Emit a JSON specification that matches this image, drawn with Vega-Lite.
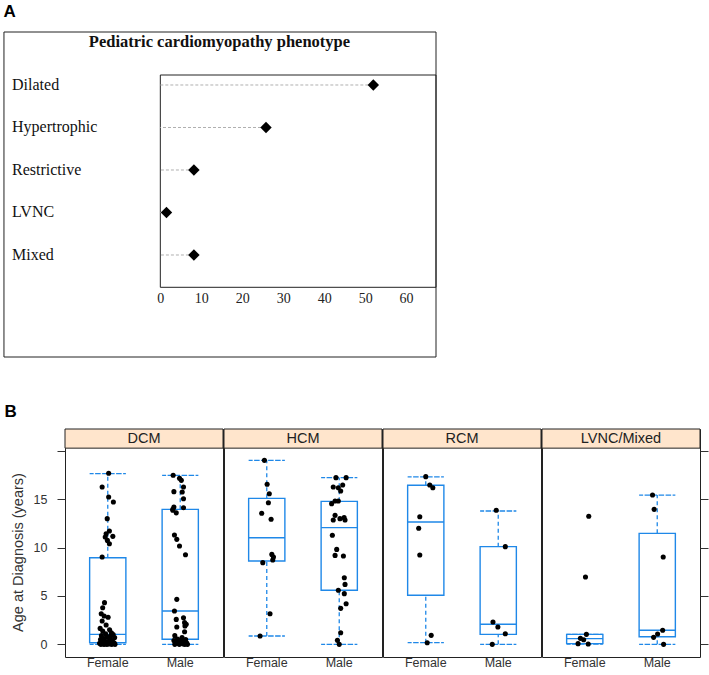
{
"$schema":"https://vega.github.io/schema/vega-lite/v6.json",
"background":"white",
"padding":{"left":3,"top":2,"right":0,"bottom":0},
"config":{"font":"Liberation Sans","view":{"stroke":"#222","strokeWidth":1},"scale":{"bandPaddingInner":0.5,"bandPaddingOuter":0.34},"axis":{"grid":false,"domain":false,"labelColor":"#333","titleColor":"#333","tickColor":"#333","titleFontWeight":"normal"}},
"datasets":{
"phen":[{"name":"Dilated","pct":52},{"name":"Hypertrophic","pct":25.8},{"name":"Restrictive","pct":8.2},{"name":"LVNC","pct":1.5},{"name":"Mixed","pct":8.2}],
"box":[
{"cmp":"DCM","sex":"Female","lo":0,"q1":0.17,"med":1.03,"q3":8.96,"hi":17.65},
{"cmp":"DCM","sex":"Male","lo":0,"q1":0.52,"med":3.44,"q3":13.96,"hi":17.48},
{"cmp":"HCM","sex":"Female","lo":0.86,"q1":8.62,"med":11.03,"q3":15.1,"hi":19.03},
{"cmp":"HCM","sex":"Male","lo":0,"q1":5.59,"med":12.07,"q3":14.79,"hi":17.24},
{"cmp":"RCM","sex":"Female","lo":0.17,"q1":5.07,"med":12.65,"q3":16.45,"hi":17.31},
{"cmp":"RCM","sex":"Male","lo":0,"q1":1.03,"med":2.07,"q3":10.1,"hi":13.79},
{"cmp":"LVNC/Mixed","sex":"Female","lo":0.03,"q1":0.07,"med":0.59,"q3":1.03,"hi":1.03},
{"cmp":"LVNC/Mixed","sex":"Male","lo":0,"q1":0.79,"med":1.45,"q3":11.48,"hi":15.44}
],
"pts":[
{"cmp":"DCM","sex":"Female","age":17.69,"j":0.05},{"cmp":"DCM","sex":"Female","age":16.27,"j":-0.31},{"cmp":"DCM","sex":"Female","age":15.24,"j":0.05},{"cmp":"DCM","sex":"Female","age":14.72,"j":0.31},{"cmp":"DCM","sex":"Female","age":13.0,"j":-0.03},{"cmp":"DCM","sex":"Female","age":11.72,"j":0.09},{"cmp":"DCM","sex":"Female","age":11.44,"j":-0.09},{"cmp":"DCM","sex":"Female","age":11.17,"j":0.28},{"cmp":"DCM","sex":"Female","age":11.1,"j":-0.14},{"cmp":"DCM","sex":"Female","age":10.75,"j":-0.02},{"cmp":"DCM","sex":"Female","age":10.41,"j":0.09},{"cmp":"DCM","sex":"Female","age":9.03,"j":-0.31},
{"cmp":"DCM","sex":"Female","age":4.31,"j":-0.18},{"cmp":"DCM","sex":"Female","age":3.79,"j":-0.28},{"cmp":"DCM","sex":"Female","age":3.17,"j":-0.36},{"cmp":"DCM","sex":"Female","age":2.93,"j":-0.2},{"cmp":"DCM","sex":"Female","age":2.8,"j":0.02},{"cmp":"DCM","sex":"Female","age":2.41,"j":-0.31},{"cmp":"DCM","sex":"Female","age":2.0,"j":-0.09},{"cmp":"DCM","sex":"Female","age":1.65,"j":-0.42},{"cmp":"DCM","sex":"Female","age":1.5,"j":0.1},{"cmp":"DCM","sex":"Female","age":1.37,"j":-0.28},{"cmp":"DCM","sex":"Female","age":1.2,"j":0.2},{"cmp":"DCM","sex":"Female","age":1.1,"j":-0.12},
{"cmp":"DCM","sex":"Female","age":1.0,"j":0.3},{"cmp":"DCM","sex":"Female","age":0.9,"j":-0.35},{"cmp":"DCM","sex":"Female","age":0.85,"j":0.15},{"cmp":"DCM","sex":"Female","age":0.8,"j":-0.05},{"cmp":"DCM","sex":"Female","age":0.7,"j":0.38},{"cmp":"DCM","sex":"Female","age":0.6,"j":-0.22},{"cmp":"DCM","sex":"Female","age":0.55,"j":0.1},{"cmp":"DCM","sex":"Female","age":0.5,"j":-0.4},{"cmp":"DCM","sex":"Female","age":0.4,"j":0.25},{"cmp":"DCM","sex":"Female","age":0.35,"j":-0.15},{"cmp":"DCM","sex":"Female","age":0.3,"j":0.05},{"cmp":"DCM","sex":"Female","age":0.25,"j":-0.3},
{"cmp":"DCM","sex":"Female","age":0.17,"j":0.35},{"cmp":"DCM","sex":"Female","age":0.15,"j":-0.1},{"cmp":"DCM","sex":"Female","age":0.12,"j":0.18},{"cmp":"DCM","sex":"Female","age":0.1,"j":-0.45},{"cmp":"DCM","sex":"Female","age":0.08,"j":0.28},{"cmp":"DCM","sex":"Female","age":0.05,"j":-0.25},{"cmp":"DCM","sex":"Female","age":0.03,"j":0.08},{"cmp":"DCM","sex":"Female","age":0.0,"j":-0.38},{"cmp":"DCM","sex":"Female","age":0.0,"j":0.22},{"cmp":"DCM","sex":"Female","age":0.0,"j":-0.05},{"cmp":"DCM","sex":"Female","age":0.0,"j":0.4},{"cmp":"DCM","sex":"Female","age":0.0,"j":-0.2},
{"cmp":"DCM","sex":"Male","age":17.48,"j":-0.39},{"cmp":"DCM","sex":"Male","age":17.17,"j":-0.04},{"cmp":"DCM","sex":"Male","age":16.96,"j":0.06},{"cmp":"DCM","sex":"Male","age":16.27,"j":0.18},{"cmp":"DCM","sex":"Male","age":15.79,"j":-0.35},{"cmp":"DCM","sex":"Male","age":15.75,"j":0.11},{"cmp":"DCM","sex":"Male","age":15.06,"j":0.18},{"cmp":"DCM","sex":"Male","age":14.2,"j":-0.35},{"cmp":"DCM","sex":"Male","age":14.13,"j":0.18},{"cmp":"DCM","sex":"Male","age":13.96,"j":-0.41},{"cmp":"DCM","sex":"Male","age":13.86,"j":-0.41},{"cmp":"DCM","sex":"Male","age":13.6,"j":-0.22},
{"cmp":"DCM","sex":"Male","age":11.3,"j":-0.32},{"cmp":"DCM","sex":"Male","age":10.86,"j":-0.19},{"cmp":"DCM","sex":"Male","age":10.17,"j":-0.04},{"cmp":"DCM","sex":"Male","age":9.27,"j":0.29},{"cmp":"DCM","sex":"Male","age":4.65,"j":-0.19},{"cmp":"DCM","sex":"Male","age":3.44,"j":-0.32},{"cmp":"DCM","sex":"Male","age":2.75,"j":0.18},{"cmp":"DCM","sex":"Male","age":2.58,"j":-0.22},{"cmp":"DCM","sex":"Male","age":2.24,"j":0.24},{"cmp":"DCM","sex":"Male","age":2.07,"j":0.33},{"cmp":"DCM","sex":"Male","age":1.89,"j":0.26},{"cmp":"DCM","sex":"Male","age":1.79,"j":-0.19},{"cmp":"DCM","sex":"Male","age":1.3,"j":0.24},
{"cmp":"DCM","sex":"Male","age":0.9,"j":-0.3},{"cmp":"DCM","sex":"Male","age":0.7,"j":0.1},{"cmp":"DCM","sex":"Male","age":0.55,"j":-0.15},{"cmp":"DCM","sex":"Male","age":0.5,"j":0.3},{"cmp":"DCM","sex":"Male","age":0.4,"j":-0.35},{"cmp":"DCM","sex":"Male","age":0.35,"j":0.05},{"cmp":"DCM","sex":"Male","age":0.3,"j":0.2},{"cmp":"DCM","sex":"Male","age":0.2,"j":-0.25},{"cmp":"DCM","sex":"Male","age":0.15,"j":0.35},{"cmp":"DCM","sex":"Male","age":0.1,"j":-0.1},{"cmp":"DCM","sex":"Male","age":0.05,"j":0.15},{"cmp":"DCM","sex":"Male","age":0.0,"j":-0.3},{"cmp":"DCM","sex":"Male","age":0.0,"j":0.25},{"cmp":"DCM","sex":"Male","age":0.0,"j":-0.05},{"cmp":"DCM","sex":"Male","age":0.0,"j":0.4},
{"cmp":"HCM","sex":"Female","age":19.03,"j":-0.13},{"cmp":"HCM","sex":"Female","age":16.55,"j":0.02},{"cmp":"HCM","sex":"Female","age":15.58,"j":0.14},{"cmp":"HCM","sex":"Female","age":14.65,"j":0.09},{"cmp":"HCM","sex":"Female","age":13.55,"j":-0.28},{"cmp":"HCM","sex":"Female","age":12.93,"j":0.24},{"cmp":"HCM","sex":"Female","age":9.3,"j":0.28},{"cmp":"HCM","sex":"Female","age":9.03,"j":0.37},{"cmp":"HCM","sex":"Female","age":8.72,"j":0.33},{"cmp":"HCM","sex":"Female","age":8.45,"j":-0.22},{"cmp":"HCM","sex":"Female","age":3.17,"j":0.18},{"cmp":"HCM","sex":"Female","age":0.86,"j":-0.37},
{"cmp":"HCM","sex":"Male","age":17.24,"j":-0.18},{"cmp":"HCM","sex":"Male","age":17.24,"j":0.38},{"cmp":"HCM","sex":"Male","age":16.48,"j":0.19},{"cmp":"HCM","sex":"Male","age":16.27,"j":-0.33},{"cmp":"HCM","sex":"Male","age":16.2,"j":-0.05},{"cmp":"HCM","sex":"Male","age":15.86,"j":0.08},{"cmp":"HCM","sex":"Male","age":14.83,"j":-0.23},{"cmp":"HCM","sex":"Male","age":14.83,"j":-0.05},{"cmp":"HCM","sex":"Male","age":14.55,"j":-0.42},{"cmp":"HCM","sex":"Male","age":13.34,"j":-0.23},{"cmp":"HCM","sex":"Male","age":13.1,"j":0.27},{"cmp":"HCM","sex":"Male","age":13.0,"j":0.04},{"cmp":"HCM","sex":"Male","age":12.86,"j":-0.33},{"cmp":"HCM","sex":"Male","age":12.86,"j":0.32},
{"cmp":"HCM","sex":"Male","age":11.28,"j":-0.38},{"cmp":"HCM","sex":"Male","age":9.82,"j":-0.14},{"cmp":"HCM","sex":"Male","age":9.2,"j":-0.23},{"cmp":"HCM","sex":"Male","age":9.13,"j":0.23},{"cmp":"HCM","sex":"Male","age":6.89,"j":0.28},{"cmp":"HCM","sex":"Male","age":6.2,"j":0.32},{"cmp":"HCM","sex":"Male","age":5.59,"j":-0.05},{"cmp":"HCM","sex":"Male","age":5.24,"j":0.28},{"cmp":"HCM","sex":"Male","age":4.2,"j":0.38},{"cmp":"HCM","sex":"Male","age":3.72,"j":0.08},{"cmp":"HCM","sex":"Male","age":1.2,"j":0.08},{"cmp":"HCM","sex":"Male","age":0.41,"j":-0.1},{"cmp":"HCM","sex":"Male","age":0.0,"j":0.0},
{"cmp":"RCM","sex":"Female","age":17.34,"j":0.0},{"cmp":"RCM","sex":"Female","age":16.48,"j":0.22},{"cmp":"RCM","sex":"Female","age":16.2,"j":0.39},{"cmp":"RCM","sex":"Female","age":13.2,"j":-0.33},{"cmp":"RCM","sex":"Female","age":12.0,"j":-0.39},{"cmp":"RCM","sex":"Female","age":9.24,"j":-0.33},{"cmp":"RCM","sex":"Female","age":0.93,"j":0.3},{"cmp":"RCM","sex":"Female","age":0.17,"j":0.08},
{"cmp":"RCM","sex":"Male","age":13.86,"j":-0.11},{"cmp":"RCM","sex":"Male","age":10.1,"j":0.39},{"cmp":"RCM","sex":"Male","age":2.31,"j":-0.29},{"cmp":"RCM","sex":"Male","age":1.79,"j":-0.02},{"cmp":"RCM","sex":"Male","age":1.1,"j":0.39},{"cmp":"RCM","sex":"Male","age":0.0,"j":-0.33},
{"cmp":"LVNC/Mixed","sex":"Female","age":13.24,"j":0.22},{"cmp":"LVNC/Mixed","sex":"Female","age":6.96,"j":0.04},{"cmp":"LVNC/Mixed","sex":"Female","age":1.03,"j":0.09},{"cmp":"LVNC/Mixed","sex":"Female","age":0.62,"j":-0.24},{"cmp":"LVNC/Mixed","sex":"Female","age":0.48,"j":-0.06},{"cmp":"LVNC/Mixed","sex":"Female","age":0.07,"j":-0.37},{"cmp":"LVNC/Mixed","sex":"Female","age":0.03,"j":0.19},
{"cmp":"LVNC/Mixed","sex":"Male","age":15.44,"j":-0.26},{"cmp":"LVNC/Mixed","sex":"Male","age":13.96,"j":-0.17},{"cmp":"LVNC/Mixed","sex":"Male","age":9.03,"j":0.33},{"cmp":"LVNC/Mixed","sex":"Male","age":1.45,"j":0.3},{"cmp":"LVNC/Mixed","sex":"Male","age":1.07,"j":0.02},{"cmp":"LVNC/Mixed","sex":"Male","age":0.72,"j":-0.2},{"cmp":"LVNC/Mixed","sex":"Male","age":0.0,"j":0.35}
]
},
"spacing":45,
"vconcat":[
{
"title":{"text":"A","anchor":"start","frame":"bounds","fontSize":17,"fontWeight":"bold","offset":11,"color":"#000"},
"width":371,"height":325,
"view":{"stroke":null},
"layer":[
{"data":{"values":[{"x0":-38.17,"x1":67.3,"y0":-0.247,"y1":7.4}]},"mark":{"type":"rect","fill":"transparent","stroke":"#222","strokeWidth":1},"encoding":{"x":{"field":"x0","type":"quantitative","scale":{"domain":[-23.27,67.3],"nice":false,"zero":false}},"x2":{"field":"x1"},"y":{"field":"y0","type":"quantitative","scale":{"domain":[-0.247,7.4],"nice":false,"zero":false,"reverse":true},"axis":null},"y2":{"field":"y1"}}},
{"data":{"values":[{"x0":0,"x1":67.3,"y0":0.765,"y1":5.76}]},"mark":{"type":"rect","fill":"transparent","stroke":"#222","strokeWidth":1},"encoding":{"x":{"field":"x0","type":"quantitative","scale":{"domain":[-23.27,67.3],"nice":false,"zero":false}},"x2":{"field":"x1"},"y":{"field":"y0","type":"quantitative","scale":{"domain":[-0.247,7.4],"nice":false,"zero":false,"reverse":true},"axis":null},"y2":{"field":"y1"}}},
{"data":{"name":"phen"},"transform":[{"window":[{"op":"row_number","as":"idx"}]}],"mark":{"type":"rule","color":"#b0b0b0","strokeDash":[3,2],"strokeWidth":1},"encoding":{"x":{"field":"pct","type":"quantitative","scale":{"domain":[-23.27,67.3],"nice":false,"zero":false}},"x2":{"datum":0},"y":{"field":"idx","type":"quantitative","scale":{"domain":[-0.247,7.4],"nice":false,"zero":false,"reverse":true},"axis":null}}},
{"data":{"name":"phen"},"transform":[{"window":[{"op":"row_number","as":"idx"}]}],"mark":{"type":"point","shape":"diamond","filled":true,"color":"#000","size":130,"opacity":1},"encoding":{"x":{"field":"pct","type":"quantitative","scale":{"domain":[-23.27,67.3],"nice":false,"zero":false},"axis":{"values":[0,10,20,30,40,50,60],"offset":-70,"ticks":false,"tickSize":0,"domain":false,"grid":false,"labelPadding":4,"labelFont":"Liberation Serif","labelFontSize":14,"labelColor":"#222","title":null,"labelFlush":false,"labelOverlap":false}},"y":{"field":"idx","type":"quantitative","scale":{"domain":[-0.247,7.4],"nice":false,"zero":false,"reverse":true},"axis":null}}},
{"data":{"name":"phen"},"transform":[{"window":[{"op":"row_number","as":"idx"}]}],"mark":{"type":"text","align":"left","baseline":"middle","font":"Liberation Serif","fontSize":16,"color":"#111"},"encoding":{"x":{"datum":-36.2,"type":"quantitative","scale":{"domain":[-23.27,67.3],"nice":false,"zero":false}},"y":{"field":"idx","type":"quantitative","scale":{"domain":[-0.247,7.4],"nice":false,"zero":false,"reverse":true},"axis":null},"text":{"field":"name"}}},
{"data":{"values":[{"t":"Pediatric cardiomyopathy phenotype"}]},"mark":{"type":"text","align":"center","baseline":"middle","font":"Liberation Serif","fontSize":16.5,"fontWeight":"bold","color":"#111"},"encoding":{"x":{"datum":14.44,"type":"quantitative","scale":{"domain":[-23.27,67.3],"nice":false,"zero":false}},"y":{"datum":0.0,"type":"quantitative","scale":{"domain":[-0.247,7.4],"nice":false,"zero":false,"reverse":true},"axis":null},"text":{"field":"t"}}}
]
},
{
"title":{"text":"B","anchor":"start","frame":"bounds","fontSize":17,"fontWeight":"bold","offset":7,"color":"#000"},
"spacing":-2,
"resolve":{"scale":{"x":"independent","y":"independent"}},
"hconcat":[
{"width":158,"height":228,"resolve":{"scale":{"xOffset":"independent"}},"layer":[
{"data":{"values":[{"cmp":"DCM","s0":20.29,"s1":22.27,"sm":21.28}]},"mark":{"type":"rect","fill":"#ffe5cc","stroke":"#222","strokeWidth":1},"encoding":{"y":{"field":"s0","type":"quantitative","scale":{"domain":[-1.31,22.27],"nice":false,"zero":false}},"y2":{"field":"s1"}}},
{"data":{"values":[{"cmp":"DCM","s0":20.29,"s1":22.27,"sm":21.28}]},"mark":{"type":"text","fontSize":14.5,"color":"#222","baseline":"middle","align":"center"},"encoding":{"y":{"field":"sm","type":"quantitative","scale":{"domain":[-1.31,22.27],"nice":false,"zero":false}},"text":{"field":"cmp"}}},
{"data":{"name":"box"},"transform":[{"filter":"datum.cmp==='DCM'"}],"mark":{"type":"rule","color":"#1f88e8","strokeDash":[4,3],"strokeWidth":1.3},"encoding":{"x":{"field":"sex","type":"nominal","scale":{"type":"band"}},"y":{"field":"q3","type":"quantitative","scale":{"domain":[-1.31,22.27],"nice":false,"zero":false}},"y2":{"field":"hi"}}},
{"data":{"name":"box"},"transform":[{"filter":"datum.cmp==='DCM'"}],"mark":{"type":"rule","color":"#1f88e8","strokeDash":[4,3],"strokeWidth":1.3},"encoding":{"x":{"field":"sex","type":"nominal","scale":{"type":"band"}},"y":{"field":"lo","type":"quantitative","scale":{"domain":[-1.31,22.27],"nice":false,"zero":false}},"y2":{"field":"q1"}}},
{"data":{"name":"box"},"transform":[{"filter":"datum.cmp==='DCM'"}],"mark":{"type":"bar","fill":"transparent","stroke":"#1f88e8","strokeDash":[4,3],"strokeWidth":1.3},"encoding":{"x":{"field":"sex","type":"nominal","scale":{"type":"band"}},"y":{"field":"hi","type":"quantitative","scale":{"domain":[-1.31,22.27],"nice":false,"zero":false}},"y2":{"field":"hi"}}},
{"data":{"name":"box"},"transform":[{"filter":"datum.cmp==='DCM'"}],"mark":{"type":"bar","fill":"transparent","stroke":"#1f88e8","strokeDash":[4,3],"strokeWidth":1.3},"encoding":{"x":{"field":"sex","type":"nominal","scale":{"type":"band"}},"y":{"field":"lo","type":"quantitative","scale":{"domain":[-1.31,22.27],"nice":false,"zero":false}},"y2":{"field":"lo"}}},
{"data":{"name":"box"},"transform":[{"filter":"datum.cmp==='DCM'"}],"mark":{"type":"bar","fill":"transparent","stroke":"#1f88e8","strokeWidth":1.4},"encoding":{"x":{"field":"sex","type":"nominal","scale":{"type":"band"}},"y":{"field":"q1","type":"quantitative","scale":{"domain":[-1.31,22.27],"nice":false,"zero":false}},"y2":{"field":"q3"}}},
{"data":{"name":"box"},"transform":[{"filter":"datum.cmp==='DCM'"}],"mark":{"type":"bar","fill":"transparent","stroke":"#1f88e8","strokeWidth":1.4},"encoding":{"x":{"field":"sex","type":"nominal","scale":{"type":"band"}},"y":{"field":"med","type":"quantitative","scale":{"domain":[-1.31,22.27],"nice":false,"zero":false}},"y2":{"field":"med"}}},
{"data":{"name":"pts"},"transform":[{"filter":"datum.cmp==='DCM'"}],"mark":{"type":"circle","color":"#000","size":26,"opacity":1},"encoding":{"x":{"field":"sex","type":"nominal","scale":{"type":"band"},"axis":{"title":null,"ticks":false,"tickSize":0,"domain":false,"bandPosition":0.5,"labelAlign":"center","labelPadding":5,"labelFontSize":12.5,"labelColor":"#333","labelAngle":0}},"xOffset":{"field":"j","type":"quantitative","scale":{"domain":[-1,1]}},"y":{"field":"age","type":"quantitative","scale":{"domain":[-1.31,22.27],"nice":false,"zero":false},"axis":{"values":[0,5,10,15,20],"labelExpr":"datum.value==20?'':datum.label","tickSize":8,"labelPadding":10,"labelFontSize":12.5,"title":["","Age at Diagnosis (years)"],"titleFontSize":14.5,"titlePadding":8,"titleLineHeight":5,"titleY":123,"domain":false,"grid":false}}}}
]},
{"width":158,"height":228,"resolve":{"scale":{"xOffset":"independent"}},"layer":[
{"data":{"values":[{"cmp":"HCM","s0":20.29,"s1":22.27,"sm":21.28}]},"mark":{"type":"rect","fill":"#ffe5cc","stroke":"#222","strokeWidth":1},"encoding":{"y":{"field":"s0","type":"quantitative","scale":{"domain":[-1.31,22.27],"nice":false,"zero":false},"axis":null},"y2":{"field":"s1"}}},
{"data":{"values":[{"cmp":"HCM","s0":20.29,"s1":22.27,"sm":21.28}]},"mark":{"type":"text","fontSize":14.5,"color":"#222","baseline":"middle","align":"center"},"encoding":{"y":{"field":"sm","type":"quantitative","scale":{"domain":[-1.31,22.27],"nice":false,"zero":false},"axis":null},"text":{"field":"cmp"}}},
{"data":{"name":"box"},"transform":[{"filter":"datum.cmp==='HCM'"}],"mark":{"type":"rule","color":"#1f88e8","strokeDash":[4,3],"strokeWidth":1.3},"encoding":{"x":{"field":"sex","type":"nominal","scale":{"type":"band"}},"y":{"field":"q3","type":"quantitative","scale":{"domain":[-1.31,22.27],"nice":false,"zero":false},"axis":null},"y2":{"field":"hi"}}},
{"data":{"name":"box"},"transform":[{"filter":"datum.cmp==='HCM'"}],"mark":{"type":"rule","color":"#1f88e8","strokeDash":[4,3],"strokeWidth":1.3},"encoding":{"x":{"field":"sex","type":"nominal","scale":{"type":"band"}},"y":{"field":"lo","type":"quantitative","scale":{"domain":[-1.31,22.27],"nice":false,"zero":false},"axis":null},"y2":{"field":"q1"}}},
{"data":{"name":"box"},"transform":[{"filter":"datum.cmp==='HCM'"}],"mark":{"type":"bar","fill":"transparent","stroke":"#1f88e8","strokeDash":[4,3],"strokeWidth":1.3},"encoding":{"x":{"field":"sex","type":"nominal","scale":{"type":"band"}},"y":{"field":"hi","type":"quantitative","scale":{"domain":[-1.31,22.27],"nice":false,"zero":false},"axis":null},"y2":{"field":"hi"}}},
{"data":{"name":"box"},"transform":[{"filter":"datum.cmp==='HCM'"}],"mark":{"type":"bar","fill":"transparent","stroke":"#1f88e8","strokeDash":[4,3],"strokeWidth":1.3},"encoding":{"x":{"field":"sex","type":"nominal","scale":{"type":"band"}},"y":{"field":"lo","type":"quantitative","scale":{"domain":[-1.31,22.27],"nice":false,"zero":false},"axis":null},"y2":{"field":"lo"}}},
{"data":{"name":"box"},"transform":[{"filter":"datum.cmp==='HCM'"}],"mark":{"type":"bar","fill":"transparent","stroke":"#1f88e8","strokeWidth":1.4},"encoding":{"x":{"field":"sex","type":"nominal","scale":{"type":"band"}},"y":{"field":"q1","type":"quantitative","scale":{"domain":[-1.31,22.27],"nice":false,"zero":false},"axis":null},"y2":{"field":"q3"}}},
{"data":{"name":"box"},"transform":[{"filter":"datum.cmp==='HCM'"}],"mark":{"type":"bar","fill":"transparent","stroke":"#1f88e8","strokeWidth":1.4},"encoding":{"x":{"field":"sex","type":"nominal","scale":{"type":"band"}},"y":{"field":"med","type":"quantitative","scale":{"domain":[-1.31,22.27],"nice":false,"zero":false},"axis":null},"y2":{"field":"med"}}},
{"data":{"name":"pts"},"transform":[{"filter":"datum.cmp==='HCM'"}],"mark":{"type":"circle","color":"#000","size":26,"opacity":1},"encoding":{"x":{"field":"sex","type":"nominal","scale":{"type":"band"},"axis":{"title":null,"ticks":false,"tickSize":0,"domain":false,"bandPosition":0.5,"labelAlign":"center","labelPadding":5,"labelFontSize":12.5,"labelColor":"#333","labelAngle":0}},"xOffset":{"field":"j","type":"quantitative","scale":{"domain":[-1,1]}},"y":{"field":"age","type":"quantitative","scale":{"domain":[-1.31,22.27],"nice":false,"zero":false},"axis":null}}}
]},
{"width":158,"height":228,"resolve":{"scale":{"xOffset":"independent"}},"layer":[
{"data":{"values":[{"cmp":"RCM","s0":20.29,"s1":22.27,"sm":21.28}]},"mark":{"type":"rect","fill":"#ffe5cc","stroke":"#222","strokeWidth":1},"encoding":{"y":{"field":"s0","type":"quantitative","scale":{"domain":[-1.31,22.27],"nice":false,"zero":false},"axis":null},"y2":{"field":"s1"}}},
{"data":{"values":[{"cmp":"RCM","s0":20.29,"s1":22.27,"sm":21.28}]},"mark":{"type":"text","fontSize":14.5,"color":"#222","baseline":"middle","align":"center"},"encoding":{"y":{"field":"sm","type":"quantitative","scale":{"domain":[-1.31,22.27],"nice":false,"zero":false},"axis":null},"text":{"field":"cmp"}}},
{"data":{"name":"box"},"transform":[{"filter":"datum.cmp==='RCM'"}],"mark":{"type":"rule","color":"#1f88e8","strokeDash":[4,3],"strokeWidth":1.3},"encoding":{"x":{"field":"sex","type":"nominal","scale":{"type":"band"}},"y":{"field":"q3","type":"quantitative","scale":{"domain":[-1.31,22.27],"nice":false,"zero":false},"axis":null},"y2":{"field":"hi"}}},
{"data":{"name":"box"},"transform":[{"filter":"datum.cmp==='RCM'"}],"mark":{"type":"rule","color":"#1f88e8","strokeDash":[4,3],"strokeWidth":1.3},"encoding":{"x":{"field":"sex","type":"nominal","scale":{"type":"band"}},"y":{"field":"lo","type":"quantitative","scale":{"domain":[-1.31,22.27],"nice":false,"zero":false},"axis":null},"y2":{"field":"q1"}}},
{"data":{"name":"box"},"transform":[{"filter":"datum.cmp==='RCM'"}],"mark":{"type":"bar","fill":"transparent","stroke":"#1f88e8","strokeDash":[4,3],"strokeWidth":1.3},"encoding":{"x":{"field":"sex","type":"nominal","scale":{"type":"band"}},"y":{"field":"hi","type":"quantitative","scale":{"domain":[-1.31,22.27],"nice":false,"zero":false},"axis":null},"y2":{"field":"hi"}}},
{"data":{"name":"box"},"transform":[{"filter":"datum.cmp==='RCM'"}],"mark":{"type":"bar","fill":"transparent","stroke":"#1f88e8","strokeDash":[4,3],"strokeWidth":1.3},"encoding":{"x":{"field":"sex","type":"nominal","scale":{"type":"band"}},"y":{"field":"lo","type":"quantitative","scale":{"domain":[-1.31,22.27],"nice":false,"zero":false},"axis":null},"y2":{"field":"lo"}}},
{"data":{"name":"box"},"transform":[{"filter":"datum.cmp==='RCM'"}],"mark":{"type":"bar","fill":"transparent","stroke":"#1f88e8","strokeWidth":1.4},"encoding":{"x":{"field":"sex","type":"nominal","scale":{"type":"band"}},"y":{"field":"q1","type":"quantitative","scale":{"domain":[-1.31,22.27],"nice":false,"zero":false},"axis":null},"y2":{"field":"q3"}}},
{"data":{"name":"box"},"transform":[{"filter":"datum.cmp==='RCM'"}],"mark":{"type":"bar","fill":"transparent","stroke":"#1f88e8","strokeWidth":1.4},"encoding":{"x":{"field":"sex","type":"nominal","scale":{"type":"band"}},"y":{"field":"med","type":"quantitative","scale":{"domain":[-1.31,22.27],"nice":false,"zero":false},"axis":null},"y2":{"field":"med"}}},
{"data":{"name":"pts"},"transform":[{"filter":"datum.cmp==='RCM'"}],"mark":{"type":"circle","color":"#000","size":26,"opacity":1},"encoding":{"x":{"field":"sex","type":"nominal","scale":{"type":"band"},"axis":{"title":null,"ticks":false,"tickSize":0,"domain":false,"bandPosition":0.5,"labelAlign":"center","labelPadding":5,"labelFontSize":12.5,"labelColor":"#333","labelAngle":0}},"xOffset":{"field":"j","type":"quantitative","scale":{"domain":[-1,1]}},"y":{"field":"age","type":"quantitative","scale":{"domain":[-1.31,22.27],"nice":false,"zero":false},"axis":null}}}
]},
{"width":158,"height":228,"resolve":{"scale":{"xOffset":"independent"}},"layer":[
{"data":{"values":[{"cmp":"LVNC/Mixed","s0":20.29,"s1":22.27,"sm":21.28}]},"mark":{"type":"rect","fill":"#ffe5cc","stroke":"#222","strokeWidth":1},"encoding":{"y":{"field":"s0","type":"quantitative","scale":{"domain":[-1.31,22.27],"nice":false,"zero":false}},"y2":{"field":"s1"}}},
{"data":{"values":[{"cmp":"LVNC/Mixed","s0":20.29,"s1":22.27,"sm":21.28}]},"mark":{"type":"text","fontSize":14.5,"color":"#222","baseline":"middle","align":"center"},"encoding":{"y":{"field":"sm","type":"quantitative","scale":{"domain":[-1.31,22.27],"nice":false,"zero":false}},"text":{"field":"cmp"}}},
{"data":{"name":"box"},"transform":[{"filter":"datum.cmp==='LVNC/Mixed'"}],"mark":{"type":"rule","color":"#1f88e8","strokeDash":[4,3],"strokeWidth":1.3},"encoding":{"x":{"field":"sex","type":"nominal","scale":{"type":"band"}},"y":{"field":"q3","type":"quantitative","scale":{"domain":[-1.31,22.27],"nice":false,"zero":false}},"y2":{"field":"hi"}}},
{"data":{"name":"box"},"transform":[{"filter":"datum.cmp==='LVNC/Mixed'"}],"mark":{"type":"rule","color":"#1f88e8","strokeDash":[4,3],"strokeWidth":1.3},"encoding":{"x":{"field":"sex","type":"nominal","scale":{"type":"band"}},"y":{"field":"lo","type":"quantitative","scale":{"domain":[-1.31,22.27],"nice":false,"zero":false}},"y2":{"field":"q1"}}},
{"data":{"name":"box"},"transform":[{"filter":"datum.cmp==='LVNC/Mixed'"}],"mark":{"type":"bar","fill":"transparent","stroke":"#1f88e8","strokeDash":[4,3],"strokeWidth":1.3},"encoding":{"x":{"field":"sex","type":"nominal","scale":{"type":"band"}},"y":{"field":"hi","type":"quantitative","scale":{"domain":[-1.31,22.27],"nice":false,"zero":false}},"y2":{"field":"hi"}}},
{"data":{"name":"box"},"transform":[{"filter":"datum.cmp==='LVNC/Mixed'"}],"mark":{"type":"bar","fill":"transparent","stroke":"#1f88e8","strokeDash":[4,3],"strokeWidth":1.3},"encoding":{"x":{"field":"sex","type":"nominal","scale":{"type":"band"}},"y":{"field":"lo","type":"quantitative","scale":{"domain":[-1.31,22.27],"nice":false,"zero":false}},"y2":{"field":"lo"}}},
{"data":{"name":"box"},"transform":[{"filter":"datum.cmp==='LVNC/Mixed'"}],"mark":{"type":"bar","fill":"transparent","stroke":"#1f88e8","strokeWidth":1.4},"encoding":{"x":{"field":"sex","type":"nominal","scale":{"type":"band"}},"y":{"field":"q1","type":"quantitative","scale":{"domain":[-1.31,22.27],"nice":false,"zero":false}},"y2":{"field":"q3"}}},
{"data":{"name":"box"},"transform":[{"filter":"datum.cmp==='LVNC/Mixed'"}],"mark":{"type":"bar","fill":"transparent","stroke":"#1f88e8","strokeWidth":1.4},"encoding":{"x":{"field":"sex","type":"nominal","scale":{"type":"band"}},"y":{"field":"med","type":"quantitative","scale":{"domain":[-1.31,22.27],"nice":false,"zero":false}},"y2":{"field":"med"}}},
{"data":{"name":"pts"},"transform":[{"filter":"datum.cmp==='LVNC/Mixed'"}],"mark":{"type":"circle","color":"#000","size":26,"opacity":1},"encoding":{"x":{"field":"sex","type":"nominal","scale":{"type":"band"},"axis":{"title":null,"ticks":false,"tickSize":0,"domain":false,"bandPosition":0.5,"labelAlign":"center","labelPadding":5,"labelFontSize":12.5,"labelColor":"#333","labelAngle":0}},"xOffset":{"field":"j","type":"quantitative","scale":{"domain":[-1,1]}},"y":{"field":"age","type":"quantitative","scale":{"domain":[-1.31,22.27],"nice":false,"zero":false},"axis":{"orient":"right","values":[0,5,10,15,20],"labels":false,"tickSize":8,"title":null,"domain":false,"grid":false}}}}
]}
]
}
]
}
